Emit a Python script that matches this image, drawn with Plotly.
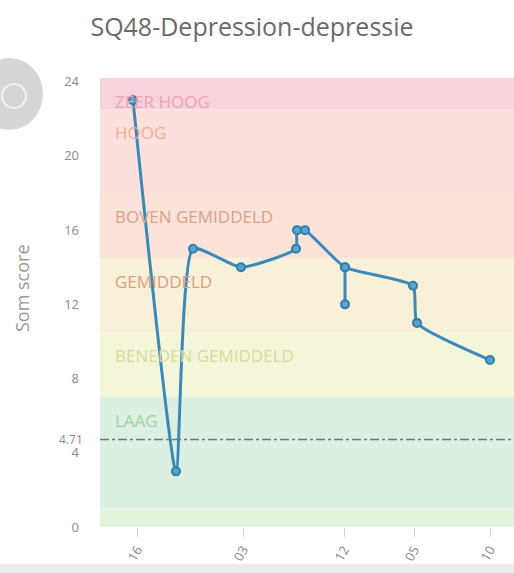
import plotly.graph_objects as go

# ---- data ----
# main line through the measurements; None separates the same-day repeat measurement
x_vals = [33, 76, 93, 141, 196, 197, 205, 245, 313, 317, 390, None, 245, 245]
scores = [23, 3, 15, 14, 15, 16, 16, 14, 13, 11, 9, None, 14, 12]

tick_pos = [37, 143, 244, 314, 390]
tick_text = ["16", "03", "12", "05", "10"]

band_names = ["ZEER HOOG", "HOOG", "BOVEN GEMIDDELD", "GEMIDDELD",
              "BENEDEN GEMIDDELD", "LAAG", "ZEER LAAG"]
band_low = [22.5, 18, 14.5, 10.5, 7, 1, 0]
band_high = [24.2, 22.5, 18, 14.5, 10.5, 7, 1]
band_fill = ["#f8d2dc", "#fce0de", "#fbe3da", "#f9f0da", "#f4f6da", "#dcefe3", "#e3f3dc"]
band_text = ["#f0a3b3", "#f2ae8e", "#dfa088", "#d9a07e", "#d8dc9c", "#9fd4a2", "#c9e3b2"]

norm_value = 4.71

W, H = 514, 573
# plot area in pixels: x 100..514, y 78..527
L, T, R = 100, 78, 0
B = H - 527

fig = go.Figure()

for lo, hi, col in zip(band_low, band_high, band_fill):
    fig.add_shape(type="rect", xref="paper", yref="y", x0=0, x1=1, y0=lo, y1=hi,
                  fillcolor=col, line_width=0, layer="below")

for name, hi, col in zip(band_names, band_high, band_text):
    fig.add_annotation(text=name, xref="x", yref="y", x=13, y=hi - 1.25,
                       xanchor="left", yanchor="middle", showarrow=False,
                       font=dict(family="Open Sans", size=17, color=col))

fig.add_shape(type="line", xref="paper", yref="y", x0=0, x1=1, y0=norm_value, y1=norm_value,
              line=dict(color="#6b7a80", width=1.5, dash="dashdot"))

fig.add_trace(go.Scatter(
    x=x_vals, y=scores, mode="lines+markers", connectgaps=False,
    line=dict(color="#3a89b8", width=3, shape="spline", smoothing=0.5),
    marker=dict(size=8, color="#5aa3cc", line=dict(color="#2f7eae", width=2)),
    showlegend=False, hoverinfo="skip"))


def px(xp):
    """pixel x -> paper fraction"""
    return (xp - L) / (W - L - R)


def py(yp):
    """pixel y -> paper fraction"""
    return (H - B - yp) / (H - T - B)


# grey UI circle at the top-left (decor)
fig.add_shape(type="circle", xref="paper", yref="paper",
              x0=px(-24), x1=px(43), y0=py(130), y1=py(58),
              fillcolor="#d6d6d6", line_width=0)
fig.add_shape(type="circle", xref="paper", yref="paper",
              x0=px(2), x1=px(26), y0=py(108), y1=py(84),
              fillcolor="rgba(0,0,0,0)", line=dict(color="#f2f2f2", width=2))
# bottom grey strip
fig.add_shape(type="rect", xref="paper", yref="paper",
              x0=px(0), x1=px(W), y0=py(H), y1=py(564),
              fillcolor="#ececec", line_width=0)

fig.add_annotation(text="4.71", xref="paper", yref="y",
                   x=px(85), y=norm_value, xanchor="right", yanchor="middle",
                   showarrow=False, font=dict(family="Open Sans", size=12, color="#8a8a8a"))

fig.add_annotation(text="Som score", xref="paper", yref="paper", x=px(22), y=py(288),
                   textangle=-90, showarrow=False, xanchor="center", yanchor="middle",
                   font=dict(family="Open Sans", size=18, color="#9a9a9a"))

fig.update_layout(
    width=W, height=H,
    margin=dict(l=L, r=R, t=T, b=B, pad=0, autoexpand=False),
    paper_bgcolor="white", plot_bgcolor="white",
    hovermode=False,
    title=dict(text="SQ48-Depression-depressie", xref="container", yref="container",
               x=252 / W, xanchor="center", y=1 - 27 / H, yanchor="middle",
               font=dict(family="Open Sans", size=25, color="#6a6a6a")),
    xaxis=dict(range=[0, W - L - R], tickmode="array", tickvals=tick_pos, ticktext=tick_text,
               tickangle=-60, showgrid=False, zeroline=False, showline=False,
               automargin=False,
               ticks="outside", ticklen=9, tickcolor="#d0d0d0",
               tickfont=dict(family="Open Sans", size=13, color="#888888")),
    yaxis=dict(range=[0, 24.2], tickvals=[0, 4, 8, 12, 16, 20, 24],
               showgrid=False, zeroline=False, showline=False,
               automargin=False, ticklabelstandoff=20,
               tickfont=dict(family="Open Sans", size=13, color="#8a8a8a")),
)

fig.write_html("out.html", config={"displayModeBar": False},
               post_script="document.body.style.margin='0px';document.body.style.overflow='hidden';")
